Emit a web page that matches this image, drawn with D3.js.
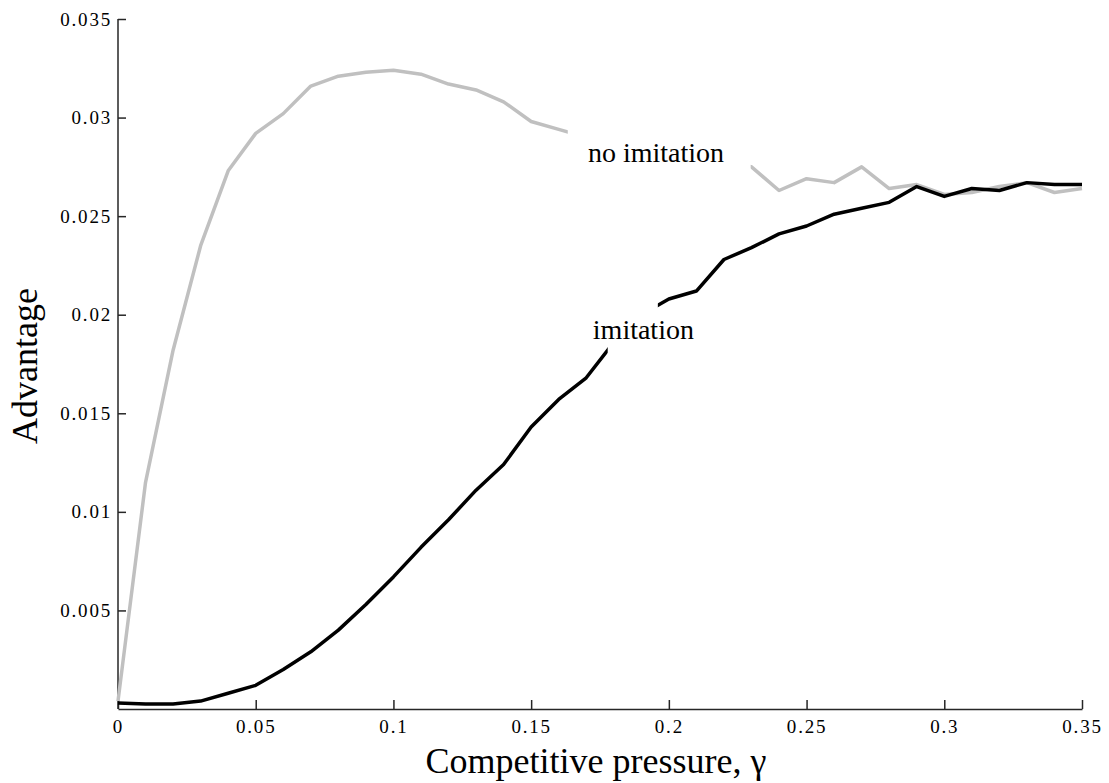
<!DOCTYPE html>
<html>
<head>
<meta charset="utf-8">
<script src="https://cdn.jsdelivr.net/npm/d3@7"></script>
<style>
  html, body { margin: 0; padding: 0; background: #fff; }
  svg { display: block; }
  text { font-family: "Liberation Serif", "Times New Roman", serif; fill: #000; }
</style>
</head>
<body>
<svg id="chart" width="1109" height="783"></svg>
<script>
// ---- data ----
const gamma = [0, 0.01, 0.02, 0.03, 0.04, 0.05, 0.06, 0.07, 0.08, 0.09,
               0.10, 0.11, 0.12, 0.13, 0.14, 0.15, 0.16, 0.17, 0.18, 0.19,
               0.20, 0.21, 0.22, 0.23, 0.24, 0.25, 0.26, 0.27, 0.28, 0.29,
               0.30, 0.31, 0.32, 0.33, 0.34, 0.35];
const noImitation = [0.0004, 0.0115, 0.0182, 0.0235, 0.0273, 0.0292, 0.0302, 0.0316, 0.0321, 0.0323,
                     0.0324, 0.0322, 0.0317, 0.0314, 0.0308, 0.0298, 0.0294, 0.0290, 0.0287, 0.0284,
                     0.0281, 0.0279, 0.0277, 0.0275, 0.0263, 0.0269, 0.0267, 0.0275, 0.0264, 0.0266,
                     0.0261, 0.0262, 0.0265, 0.0267, 0.0262, 0.0264];
const imitation = [0.0003, 0.00025, 0.00025, 0.0004, 0.0008, 0.0012, 0.0020, 0.0029, 0.0040, 0.0053,
                   0.0067, 0.0082, 0.0096, 0.0111, 0.0124, 0.0143, 0.0157, 0.0168, 0.0186, 0.0200,
                   0.0208, 0.0212, 0.0228, 0.0234, 0.0241, 0.0245, 0.0251, 0.0254, 0.0257, 0.0265,
                   0.0260, 0.0264, 0.0263, 0.0267, 0.0266, 0.0266];
const xTicks = [0, 0.05, 0.1, 0.15, 0.2, 0.25, 0.3, 0.35];
const xTickLabels = ["0", "0.05", "0.1", "0.15", "0.2", "0.25", "0.3", "0.35"];
const yTicks = [0.005, 0.01, 0.015, 0.02, 0.025, 0.03, 0.035];
const yTickLabels = ["0.005", "0.01", "0.015", "0.02", "0.025", "0.03", "0.035"];
// inline labels: text, position (gamma, value) and the gamma range where the line is broken
const labels = [
  {name: "no imitation", x: 0.1706, y: 0.02775, gap: [0.1633, 0.2297]},
  {name: "imitation",    x: 0.1724, y: 0.01877, gap: [0.1778, 0.1960]}
];

// ---- layout ----
const W = 1109, H = 783;
const margin = {left: 118, right: 27, top: 19, bottom: 74};
const svg = d3.select("#chart");
svg.append("rect").attr("width", W).attr("height", H).attr("fill", "#fff");

const x = d3.scaleLinear().domain([0, 0.35]).range([margin.left, W - margin.right]);
const y = d3.scaleLinear().domain([0, 0.035]).range([H - margin.bottom, margin.top]);

// ---- masks for inline label gaps ----
const defs = svg.append("defs");
const seriesDefs = [
  {id: "noimit", values: noImitation, color: "#c0c0c0", label: labels[0]},
  {id: "imit", values: imitation, color: "#000000", label: labels[1]}
];
seriesDefs.forEach(s => {
  const m = defs.append("mask").attr("id", "mask-" + s.id)
    .attr("maskUnits", "userSpaceOnUse").attr("x", 0).attr("y", 0).attr("width", W).attr("height", H);
  m.append("rect").attr("x", 0).attr("y", 0).attr("width", W).attr("height", H).attr("fill", "#fff");
  m.append("rect").attr("x", x(s.label.gap[0])).attr("y", 0)
    .attr("width", x(s.label.gap[1]) - x(s.label.gap[0])).attr("height", H).attr("fill", "#000");
});

// ---- axes ----
const axisColor = "#262626";
const xAxis = d3.axisBottom(x).tickValues(xTicks)
  .tickFormat((d, i) => xTickLabels[i]).tickSizeInner(-9).tickSizeOuter(0).tickPadding(11);
const gx = svg.append("g").attr("transform", `translate(0,${H - margin.bottom})`).call(xAxis);

const yAxis = d3.axisLeft(y).tickValues(yTicks)
  .tickFormat((d, i) => yTickLabels[i]).tickSizeInner(-8).tickSizeOuter(0).tickPadding(6);
const gy = svg.append("g").attr("transform", `translate(${margin.left},0)`).call(yAxis);

[gx, gy].forEach(g => {
  g.select(".domain").attr("stroke", axisColor).attr("stroke-width", 1.5);
  g.selectAll(".tick line").attr("stroke", axisColor).attr("stroke-width", 1.5);
  g.selectAll(".tick text")
    .attr("font-family", '"Liberation Serif", "Times New Roman", serif')
    .attr("font-size", 19).attr("letter-spacing", 1.8).attr("fill", "#000");
});
gy.select(".domain").attr("d", `M0,${y(0.035)}V${y(0)}`);

// ---- lines ----
const line = d3.line().x((d, i) => x(gamma[i])).y(d => y(d));
seriesDefs.forEach(s => {
  svg.append("path").datum(s.values)
    .attr("d", line)
    .attr("fill", "none")
    .attr("stroke", s.color)
    .attr("stroke-width", 3.5)
    .attr("stroke-linejoin", "round")
    .attr("mask", `url(#mask-${s.id})`);
});

// ---- inline labels ----
labels.forEach(l => {
  svg.append("text").attr("x", x(l.x)).attr("y", y(l.y))
    .attr("font-size", 28).text(l.name);
});

// ---- axis titles ----
svg.append("text")
  .attr("x", (x(0) + x(0.35)) / 2 - 4).attr("y", 773)
  .attr("text-anchor", "middle").attr("font-size", 36)
  .text("Competitive pressure, γ");

svg.append("text")
  .attr("transform", `translate(37,${(y(0) + y(0.035)) / 2 + 2}) rotate(-90)`)
  .attr("text-anchor", "middle").attr("font-size", 36)
  .text("Advantage");
</script>
</body>
</html>
